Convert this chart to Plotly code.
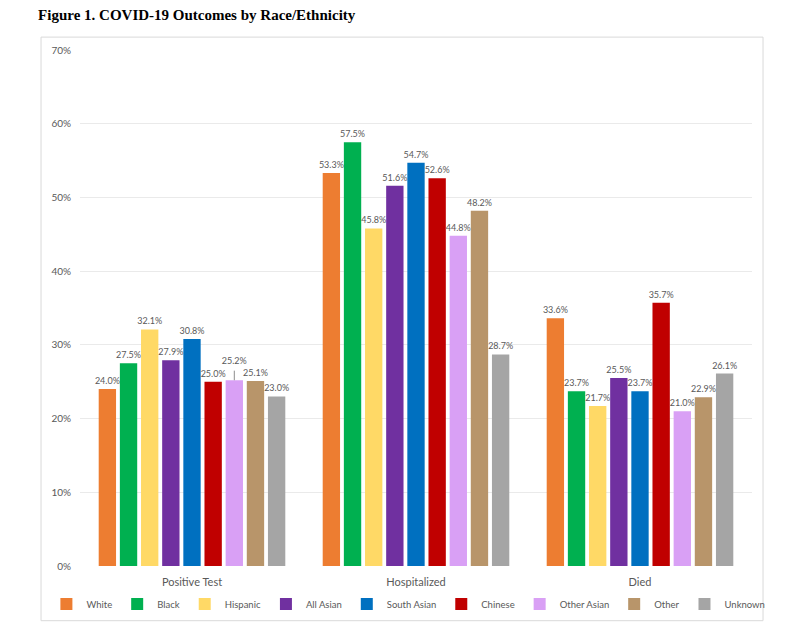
import plotly.graph_objects as go

outcomes = ["Positive Test", "Hospitalized", "Died"]
groups = ["White", "Black", "Hispanic", "All Asian", "South Asian",
          "Chinese", "Other Asian", "Other", "Unknown"]

# percent values per group, order: positive test, hospitalized, died
white = [24.0, 53.3, 33.6]
black = [27.5, 57.5, 23.7]
hispanic = [32.1, 45.8, 21.7]
all_asian = [27.9, 51.6, 25.5]
south_asian = [30.8, 54.7, 23.7]
chinese = [25.0, 52.6, 35.7]
other_asian = [25.2, 44.8, 21.0]
other = [25.1, 48.2, 22.9]
unknown = [23.0, 28.7, 26.1]

series = [white, black, hispanic, all_asian, south_asian,
          chinese, other_asian, other, unknown]
colors = ["#ED7D31", "#00B050", "#FFD966", "#7030A0", "#0070C0",
          "#C00000", "#D9A0F5", "#B8956A", "#A5A5A5"]

BARGAP = 0.15

fig = go.Figure()
for name, vals, col in zip(groups, series, colors):
    labels = [f"{v:.1f}%" for v in vals]
    if name == "Other Asian":
        # lifted label with a leader line, as in the original
        labels[0] = labels[0] + "<br>\u00a0"
    fig.add_bar(x=outcomes, y=vals, name=name, marker_color=col,
                marker_line_width=0,
                text=labels, textposition="outside",
                textfont=dict(size=9, color="#595959"), cliponaxis=False)

# leader line for the lifted label
slot = (1 - BARGAP) / len(groups)
idx = groups.index("Other Asian")
shift = (idx - (len(groups) - 1) / 2) * slot
fig.add_shape(type="line", xref="x", yref="y",
              x0=outcomes[0], x1=outcomes[0], x0shift=shift, x1shift=shift,
              y0=other_asian[0], y1=other_asian[0] + 1.3,
              line=dict(color="#8C8C8C", width=1))

fig.update_layout(
    width=792, height=621,
    paper_bgcolor="white", plot_bgcolor="white",
    font=dict(family="Lato, Open Sans, sans-serif", color="#595959"),
    margin=dict(l=72, r=48, t=42, b=62),
    barmode="group", bargap=BARGAP, bargroupgap=0.18,
    uniformtext=dict(minsize=9, mode="show"),
    title=dict(text="<b>Figure 1. COVID-19 Outcomes by Race/Ethnicity</b>",
               x=0.038, xref="container", xanchor="left",
               y=0.989, yref="container", yanchor="middle", pad=dict(l=0, t=0),
               font=dict(family="Liberation Serif, serif", size=15, color="black")),
    legend=dict(orientation="h", x=-0.05, xanchor="left",
                y=-0.0716, yanchor="middle", font=dict(size=9.5, color="#595959"),
                itemwidth=30, tracegroupgap=0, bgcolor="rgba(0,0,0,0)"),
)
fig.update_yaxes(range=[0, 70], dtick=10, ticksuffix="%", showgrid=True,
                 gridcolor="#EAEAEA", gridwidth=1, zeroline=False,
                 tickfont=dict(size=10, color="#595959"), ticklabelstandoff=8)
fig.update_xaxes(showline=False, tickfont=dict(size=11, color="#595959"),
                 ticklabelstandoff=8)

fig.add_shape(type="rect", xref="paper", yref="paper",
              x0=-0.058, x1=1.0164, y0=-0.106, y1=1.025,
              line=dict(color="#D9D9D9", width=1), fillcolor="rgba(0,0,0,0)")

fig.write_html("out.html")
